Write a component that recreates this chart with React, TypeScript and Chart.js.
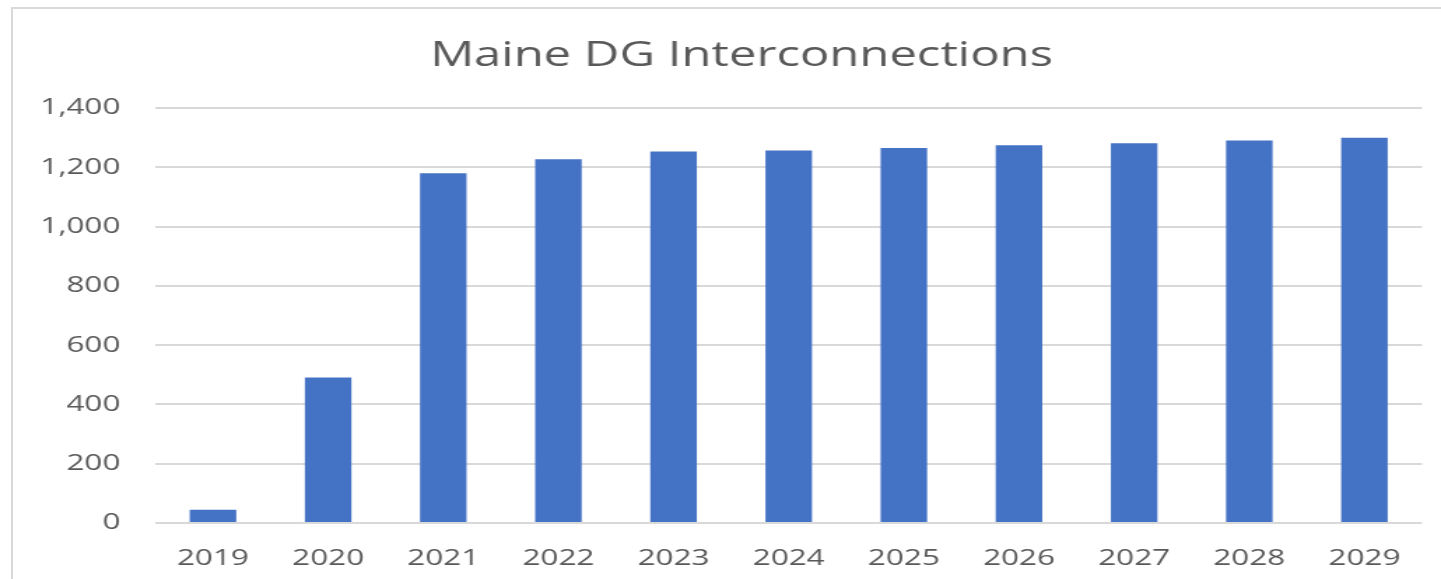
import React, { useEffect, useRef } from "react";
import { Chart, registerables } from "chart.js";

Chart.register(...registerables);

const years = ["2019", "2020", "2021", "2022", "2023", "2024", "2025", "2026", "2027", "2028", "2029"];
const interconnections = [45, 491, 1180, 1227, 1253, 1257, 1265, 1274, 1281, 1290, 1300];
const yTicks = [0, 200, 400, 600, 800, 1000, 1200, 1400];
const chartTitle = "Maine DG Interconnections";

const W = 1030;
const H = 579;
const SX = 1441 / W;
const PAD_LEFT = 43.6;

export default function App() {
  const ref = useRef<HTMLCanvasElement | null>(null);

  useEffect(() => {
    const canvas = ref.current;
    if (!canvas) return;
    const chart = new Chart(canvas, {
      type: "bar",
      data: {
        labels: years,
        datasets: [
          {
            label: "Interconnections",
            data: interconnections,
            backgroundColor: "#4472C4",
            borderWidth: 0,
            barPercentage: 0.404,
            categoryPercentage: 1,
          },
        ],
      },
      options: {
        responsive: false,
        animation: false,
        devicePixelRatio: 1,
        layout: { padding: { left: PAD_LEFT, right: W - 1422 / SX, top: 0, bottom: 0 } },
        plugins: {
          legend: { display: false },
          tooltip: { enabled: false },
          title: {
            display: true,
            text: chartTitle,
            color: "#595959",
            font: { family: "'Open Sans', sans-serif", size: 35, weight: "normal" },
            padding: { top: 35, bottom: 31 },
          },
        },
        scales: {
          x: {
            grid: { display: false, drawTicks: false },
            border: { display: false },
            ticks: {
              color: "#595959",
              font: { family: "'Open Sans', sans-serif", size: 22.5 },
              padding: 22,
              maxRotation: 0,
            },
            afterFit: (scale: any) => {
              scale.height = H - 523;
            },
          },
          y: {
            min: 0,
            max: 1400,
            afterBuildTicks: (scale: any) => {
              scale.ticks = yTicks.map((v) => ({ value: v }));
            },
            grid: { color: "#d9d9d9", lineWidth: 2, drawTicks: false },
            border: { display: false },
            ticks: {
              color: "#595959",
              font: { family: "'Open Sans', sans-serif", size: 22.5 },
              padding: 25,
              callback: (v: any) => Number(v).toLocaleString("en-US"),
            },
            afterFit: (scale: any) => {
              scale.width = 155.4 / SX - PAD_LEFT;
              // let the tick labels extend into the left padding without clipping
              scale._computeLabelArea = () => undefined;
            },
          },
        },
      },
    });
    return () => chart.destroy();
  }, []);

  return (
    <div
      style={{
        position: "fixed",
        left: 0,
        top: 0,
        width: 1441,
        height: 579,
        background: "#ffffff",
        overflow: "hidden",
      }}
    >
      <div
        style={{
          position: "absolute",
          left: 11,
          top: 7,
          width: 1441,
          height: 600,
          borderLeft: "2px solid #d9d9d9",
          borderTop: "2px solid #d9d9d9",
          boxSizing: "border-box",
        }}
      />
      <div
        style={{
          position: "absolute",
          left: 0,
          top: 0,
          width: W,
          height: H,
          transform: `scaleX(${SX})`,
          transformOrigin: "0 0",
        }}
      >
        <canvas ref={ref} width={W} height={H} style={{ display: "block" }} />
      </div>
    </div>
  );
}
